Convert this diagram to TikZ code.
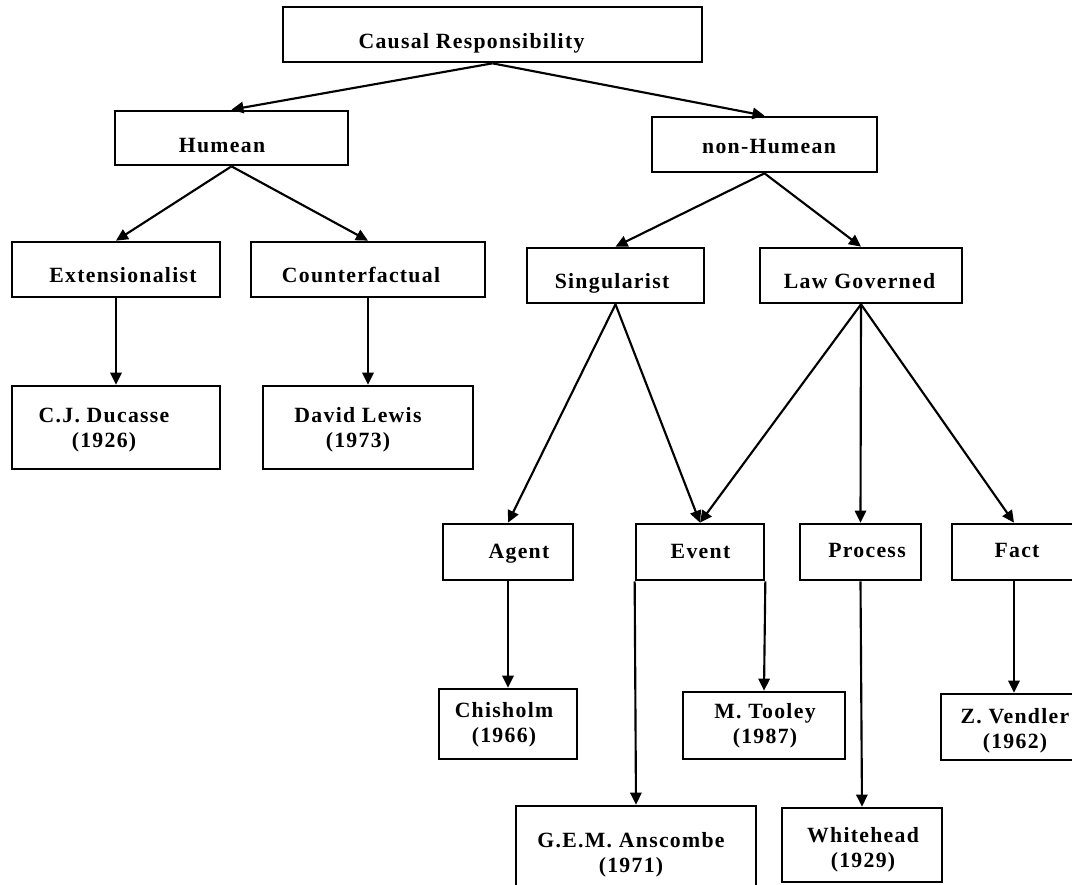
\documentclass[tikz,border=0pt]{standalone}
\usepackage{fontspec}
\setmainfont{Liberation Serif}[LetterSpace=6]
\usetikzlibrary{arrows.meta}

% box given by its corners (in px): name, x1, y1, x2, y2
\newcommand\boxat[5]{%
  \node[box, minimum width={0.75pt*(#4-#2)}, minimum height={0.75pt*(#5-#3)}]
    (#1) at ({(#2+#4)/2},{(#3+#5)/2}) {};}

\begin{document}
\begin{tikzpicture}[x=0.75pt, y=-0.75pt,
  box/.style={draw, rectangle, line width=2pt, inner sep=0pt},
  lbl/.style={font=\fontsize{16.3}{18.4}\selectfont\bfseries, inner sep=0pt, align=center},
  one/.style={lbl, anchor=base},
  link/.style={line width=1.6pt, -{Triangle[length=9pt,width=8.5pt]}}]

\useasboundingbox (0,0) rectangle (1072,885);
\clip (0,0) rectangle (1072,885);

% boxes
\boxat{cr}{283}{7}{702}{62}
\boxat{hum}{115}{111}{348}{165}
\boxat{nhum}{652}{117}{877}{172}
\boxat{ext}{12}{242}{220}{297}
\boxat{cf}{251}{242}{485}{297}
\boxat{duc}{12}{386}{220}{469}
\boxat{lew}{263}{386}{473}{469}
\boxat{sing}{527}{248}{704}{303}
\boxat{law}{760}{248}{962}{303}
\boxat{agt}{443}{524}{573}{580}
\boxat{evt}{636}{524}{764}{580}
\boxat{proc}{800}{524}{921}{580}
\boxat{fact}{952}{524}{1076}{580}
\boxat{chis}{439}{689}{577}{759}
\boxat{tool}{683}{692}{845}{759}
\boxat{vend}{941}{694}{1087}{760}
\boxat{ansc}{516}{806}{756}{900}
\boxat{whit}{782}{808}{942}{882}

% labels
\node[one] (cr-t)   at (471.5,48) {Causal Responsibility};
\node[one] (hum-t)  at (222,152)  {Humean};
\node[one] (nhum-t) at (769,153)  {non-Humean};
\node[one] (ext-t)  at (123,282)  {Extensionalist};
\node[one] (cf-t)   at (361,282)  {Counterfactual};
\node[one] (sing-t) at (612,288)  {Singularist};
\node[one] (law-t)  at (859.5,288) {Law Governed};
\node[one] (agt-t)  at (519,558)  {Agent};
\node[one] (evt-t)  at (700.5,558) {Event};
\node[one] (proc-t) at (867,557)  {Process};
\node[one] (fact-t) at (1017,557) {Fact};
\node[lbl] (duc-t)  at (104,430)  {C.J. Ducasse\\(1926)};
\node[lbl] (lew-t)  at (358,430)  {David Lewis\\(1973)};
\node[lbl] (chis-t) at (504,725)  {Chisholm\\(1966)};
\node[lbl] (tool-t) at (765,726)  {M. Tooley\\(1987)};
\node[lbl] (vend-t) at (1015,731) {Z. Vendler\\(1962)};
\node[lbl] (ansc-t) at (631,855)  {G.E.M. Anscombe\\(1971)};
\node[lbl] (whit-t) at (863,850)  {Whitehead\\(1929)};

% connectors
\draw[link] (cr.south) -- (hum.north);
\draw[link] (cr.south) -- (nhum.north);
\draw[link] (hum.south) -- (ext.north);
\draw[link] (hum.south) -- (cf.north);
\draw[link] (nhum.south) -- (sing.north);
\draw[link] (nhum.south) -- (law.north);
\draw[link] (ext.south) -- (duc.north);
\draw[link] (cf.south) -- (lew.north);
\draw[link] (sing.south) -- (agt.north);
\draw[link] (sing.south) -- (evt.north);
\draw[link] (law.south) -- (evt.north);
\draw[link] (law.south) -- (proc.north);
\draw[link] (law.south) -- (fact.north);
\draw[link] (agt.south) -- (chis.north);
\draw[link] (evt.south west) -- (ansc.north);
\draw[link] (evt.south east) -- (tool.north);
\draw[link] (proc.south) -- (whit.north);
\draw[link] (fact.south) -- (vend.north);
\end{tikzpicture}
\end{document}
